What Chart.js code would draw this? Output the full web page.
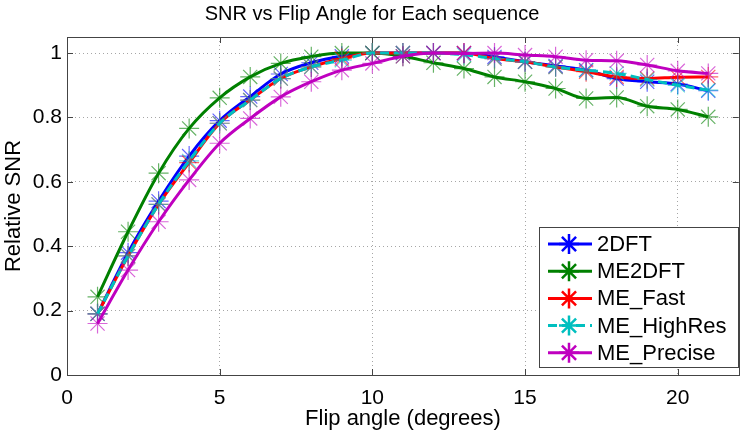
<!DOCTYPE html>
<html lang="en">
<head>
    <meta charset="UTF-8">
    <title>SNR vs Flip Angle</title>
    <style>
        html, body { margin: 0; padding: 0; background: #fff; }
        #wrap { width: 750px; height: 433px; }
    </style>
</head>
<body>
<div id="wrap"><canvas id="myChart" width="750" height="433"></canvas></div>

<script src="https://cdn.jsdelivr.net/npm/chart.js"></script>
<script>
    // flip angles (degrees)
    const flipAngles = [1, 2, 3, 4, 5, 6, 7, 8, 9, 10, 11, 12, 13, 14, 15, 16, 17, 18, 19, 20, 21]

    const snr2DFT     = [0.19, 0.38, 0.54, 0.68, 0.79, 0.865, 0.935, 0.97, 0.99, 1.0, 1.0, 1.0, 1.0, 0.988, 0.973, 0.96, 0.947, 0.921, 0.911, 0.904, 0.883]
    const snrME2DFT   = [0.243, 0.445, 0.627, 0.766, 0.861, 0.926, 0.968, 0.989, 1.0, 1.0, 0.99, 0.97, 0.952, 0.926, 0.911, 0.89, 0.859, 0.862, 0.835, 0.825, 0.802]
    const snrFast     = [0.19, 0.37, 0.53, 0.66, 0.782, 0.854, 0.921, 0.957, 0.983, 1.0, 1.0, 1.0, 1.0, 0.983, 0.973, 0.957, 0.942, 0.926, 0.921, 0.925, 0.926]
    const snrHighRes  = [0.19, 0.37, 0.53, 0.665, 0.782, 0.854, 0.921, 0.957, 0.978, 1.0, 1.0, 1.0, 0.995, 0.983, 0.973, 0.957, 0.947, 0.937, 0.918, 0.90, 0.885]
    const snrPrecise  = [0.16, 0.326, 0.476, 0.606, 0.72, 0.797, 0.864, 0.911, 0.947, 0.968, 0.99, 1.0, 0.999, 1.0, 0.994, 0.989, 0.978, 0.976, 0.963, 0.945, 0.937]

    const seriesNames = ['2DFT', 'ME2DFT', 'ME_Fast', 'ME_HighRes', 'ME_Precise']
    const xTicks = [0, 5, 10, 15, 20]
    const yTicks = [0, 0.2, 0.4, 0.6, 0.8, 1]

    const colors = ['#0000ff', '#008000', '#ff0000', '#00bfbf', '#bf00bf']
    const markerColors = ['rgba(0,0,255,0.6)', 'rgba(0,128,0,0.6)', 'rgba(255,0,0,0.6)', 'rgba(0,191,191,0.6)', 'rgba(191,0,191,0.6)']
    const dashes = [[], [], [], [9, 5], []]
    const allSeries = [snr2DFT, snrME2DFT, snrFast, snrHighRes, snrPrecise]

    const font = 'Liberation Sans, Arial, Helvetica, sans-serif'

    const datasets = allSeries.map((vals, i) => ({
        label: seriesNames[i],
        data: flipAngles.map((x, j) => ({x: x, y: vals[j]})),
        borderColor: colors[i],
        borderWidth: 3,
        borderDash: dashes[i],
        tension: 0.4,
        cubicInterpolationMode: 'monotone',
        pointStyle: 'star',
        pointRadius: 10,
        pointBorderWidth: 1.2,
        pointBorderColor: markerColors[i],
        pointBackgroundColor: markerColors[i],
        order: 5 - i
    }))

    // inside tick marks + box around plot area
    const boxPlugin = {
        id: 'box',
        afterDraw(chart) {
            const c = chart.ctx
            const a = chart.chartArea
            const xs = chart.scales.x
            const ys = chart.scales.y
            c.save()
            c.strokeStyle = '#444'
            c.lineWidth = 1
            c.beginPath()
            xTicks.forEach(v => {
                const px = Math.round(xs.getPixelForValue(v)) + 0.5
                c.moveTo(px, a.bottom); c.lineTo(px, a.bottom - 6)
                c.moveTo(px, a.top); c.lineTo(px, a.top + 6)
            })
            yTicks.forEach(v => {
                const py = Math.round(ys.getPixelForValue(v)) + 0.5
                c.moveTo(a.left, py); c.lineTo(a.left + 6, py)
                c.moveTo(a.right, py); c.lineTo(a.right - 6, py)
            })
            c.stroke()
            c.strokeRect(Math.round(a.left) + 0.5, Math.round(a.top) + 0.5, Math.round(a.right - a.left), Math.round(a.bottom - a.top))
            c.restore()
        }
    }

    // matlab-like legend box in the lower right corner
    const legendPlugin = {
        id: 'boxLegend',
        afterDraw(chart) {
            const c = chart.ctx
            const left = 539, top = 227, w = 199, h = 140
            c.save()
            c.fillStyle = '#fff'
            c.fillRect(left, top, w, h)
            c.strokeStyle = '#444'
            c.lineWidth = 1
            c.strokeRect(left + 0.5, top + 0.5, w, h)
            c.font = '22px ' + font
            c.textBaseline = 'middle'
            seriesNames.forEach((name, i) => {
                const y = 244 + i * 27.2
                c.strokeStyle = colors[i]
                c.lineWidth = 3
                c.setLineDash(dashes[i])
                c.beginPath()
                c.moveTo(548, y); c.lineTo(592, y)
                c.stroke()
                c.setLineDash([])
                c.lineWidth = 2.5
                c.beginPath()
                for (let k = 0; k < 4; k++) {
                    const ang = k * Math.PI / 4
                    const dx = Math.cos(ang) * 10, dy = Math.sin(ang) * 10
                    c.moveTo(569 - dx, y - dy); c.lineTo(569 + dx, y + dy)
                }
                c.stroke()
                c.fillStyle = '#000'
                c.fillText(name, 597, y + 1)
            })
            c.restore()
        }
    }

    new Chart(document.getElementById('myChart'), {
        type: 'line',
        data: { datasets: datasets },
        options: {
            responsive: false,
            animation: false,
            layout: { padding: { right: 6 } },
            plugins: {
                legend: { display: false },
                tooltip: { enabled: false },
                title: {
                    display: true,
                    text: 'SNR vs Flip Angle for Each sequence',
                    color: '#000',
                    font: { family: font, size: 20, weight: 'normal' },
                    padding: { top: 2, bottom: 11 }
                }
            },
            scales: {
                x: {
                    type: 'linear',
                    min: 0,
                    max: 22,
                    afterBuildTicks: (s) => { s.ticks = xTicks.map(v => ({value: v})) },
                    afterFit: (s) => { s.height = 58 },
                    ticks: { color: '#000', font: { family: font, size: 21 }, padding: 11, callback: (v) => String(v) },
                    grid: { color: 'rgba(0,0,0,0.35)', drawTicks: false },
                    border: { display: false, dash: [1, 3] },
                    title: {
                        display: true,
                        text: 'Flip angle (degrees)',
                        color: '#000',
                        font: { family: font, size: 22 },
                        padding: { top: 0, bottom: 1 }
                    }
                },
                y: {
                    min: 0,
                    max: 1.05,
                    afterBuildTicks: (s) => { s.ticks = yTicks.map(v => ({value: v})) },
                    afterFit: (s) => { s.width = 67 },
                    ticks: { color: '#000', font: { family: font, size: 21 }, padding: 5, callback: (v) => String(v) },
                    grid: { color: 'rgba(0,0,0,0.35)', drawTicks: false },
                    border: { display: false, dash: [1, 3] },
                    title: {
                        display: true,
                        text: 'Relative SNR',
                        color: '#000',
                        font: { family: font, size: 22 },
                        padding: { top: 1, bottom: 0 }
                    }
                }
            }
        },
        plugins: [boxPlugin, legendPlugin]
    });
</script>
</body>
</html>
